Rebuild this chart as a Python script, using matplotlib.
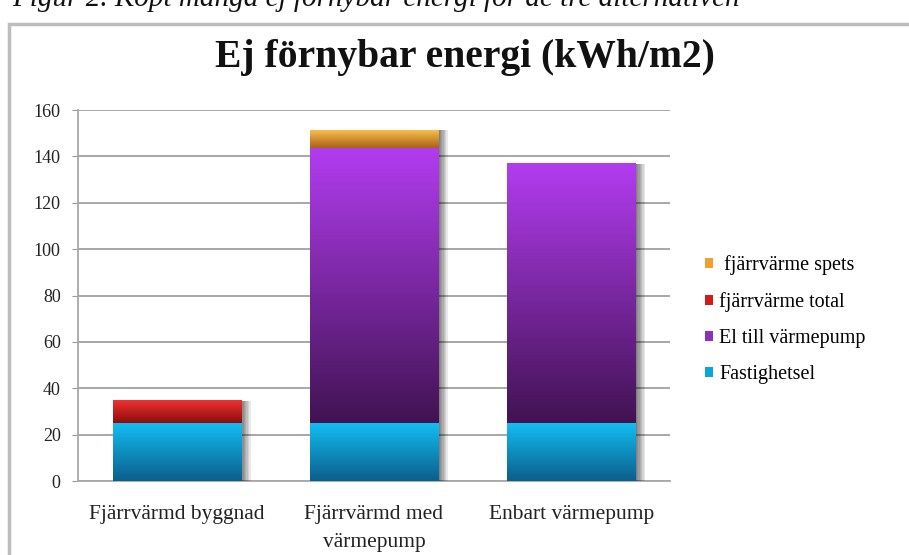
import numpy as np
import matplotlib
matplotlib.use("Agg")
import matplotlib.pyplot as plt
from matplotlib.colors import LinearSegmentedColormap
from matplotlib.patches import Rectangle, Patch
import matplotlib.patheffects as pe

categories = ["Fjärrvärmd byggnad", "Fjärrvärmd med\nvärmepump", "Enbart värmepump"]
fastighetsel = [25, 25, 25]
fjv_total = [10, 0, 0]
el_vp = [0, 118.6, 112]
fjv_spets = [0, 7.9, 0]

series = [
    ("Fastighetsel", fastighetsel, ("#0a5f8c", "#12bdf3"), "#0aa6e0"),
    ("fjärrvärme total", fjv_total, ("#8c0d0d", "#f43333"), "#d21a1a"),
    ("El till värmepump", el_vp, ("#421353", "#b23cf0"), "#8a2fc0"),
    (" fjärrvärme spets", fjv_spets, ("#a86218", "#ffc24e"), "#f0a030"),
]
legend_order = [" fjärrvärme spets", "fjärrvärme total", "El till värmepump", "Fastighetsel"]

W, H = 909, 555
fig = plt.figure(figsize=(W / 100, H / 100), dpi=100)
fig.patch.set_facecolor("white")
plt.rcParams["font.family"] = ["Liberation Serif", "DejaVu Serif"]

# caption (cut off at top in the reference) and frame
fig.text(12 / W, 1 - 6 / H, "Figur 2. Köpt mängd ej förnybar energi för de tre alternativen",
         fontsize=21, style="italic", ha="left", va="baseline", color="#111111")
fig.patches.append(Rectangle((9 / W, -0.1), 1.2, (1 - 24 / H) + 0.1, transform=fig.transFigure,
                             fill=False, edgecolor="#bdbdbd", lw=2.5, zorder=0))

ax = fig.add_axes([78 / W, 1 - 481 / H, (670 - 78) / W, (481 - 110) / H])
x = np.arange(len(categories))
bw = 0.65

bottom = np.zeros(len(categories))
shadow = [pe.SimplePatchShadow(offset=(o, -0.5), shadow_rgbFace="#000000", alpha=0.09)
          for o in (1, 2, 3, 4, 5, 6, 7)] + [pe.Normal()]
mids = {}
for name, vals, (c0, c1), mid in series:
    vals = np.array(vals, dtype=float)
    mids[name] = (c0, c1, mid)
    bars = ax.bar(x, vals, bw, bottom=bottom, color=mid, zorder=3, label=name, linewidth=0)
    for rect, v, b in zip(bars, vals, bottom):
        if v <= 0:
            continue
        rect.set_path_effects(shadow)
        cmap = LinearSegmentedColormap.from_list(name + "g", [c0, c1])
        grad = np.linspace(1, 0, 100).reshape(-1, 1)
        im = ax.imshow(grad, extent=[rect.get_x(), rect.get_x() + rect.get_width(), b, b + v],
                       aspect="auto", cmap=cmap, vmin=0, vmax=1, zorder=4, origin="upper")
        im.set_clip_path(rect)
    bottom = bottom + vals

ax.set_xlim(-0.5, 2.5)
ax.set_ylim(0, 160)
ax.set_yticks(np.arange(0, 161, 20))
ax.set_xticks(x)
ax.set_xticklabels(categories, fontsize=15.5, color="#222222", linespacing=1.7)
ax.tick_params(axis="y", labelsize=13, length=4, color="#999999", pad=8.5, labelcolor="#222222")
ax.tick_params(axis="x", length=0, pad=17)
ax.yaxis.grid(True, color="#a0a0a0", lw=1.3, zorder=0)
ax.set_axisbelow(True)
for s in ("top", "right"):
    ax.spines[s].set_visible(False)
for s in ("left", "bottom"):
    ax.spines[s].set_color("#a8a8a8")
    ax.spines[s].set_linewidth(1.3)

fig.text(465 / W, 1 - 58 / H, "Ej förnybar energi (kWh/m2)", fontsize=28.5, fontweight="bold",
         ha="center", va="center", color="#111111")

handles = [Patch(facecolor=mids[n][2], edgecolor="none", label=n) for n in legend_order]
leg = fig.legend(handles=handles, loc="upper left", bbox_to_anchor=(695 / W, 1 - 245 / H),
                 frameon=False, fontsize=14.5, handlelength=0.4, handleheight=0.4,
                 handletextpad=0.3, labelspacing=0.85, borderpad=0)

fig.savefig("out.png", dpi=100)
